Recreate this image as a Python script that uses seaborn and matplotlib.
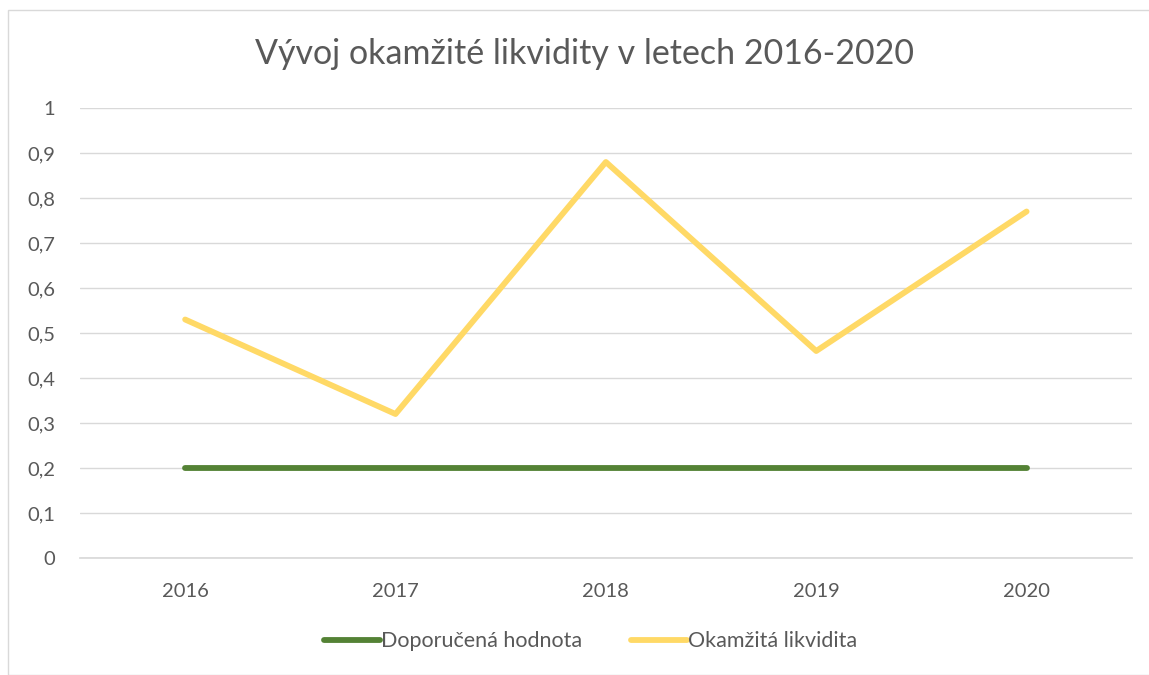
import pandas as pd
import matplotlib.pyplot as plt
import seaborn as sns
from matplotlib.patches import Rectangle

years = ["2016", "2017", "2018", "2019", "2020"]
doporucena = [0.2, 0.2, 0.2, 0.2, 0.2]
okamzita = [0.53, 0.32, 0.88, 0.46, 0.77]
series_names = ["Doporučená hodnota", "Okamžitá likvidita"]
colors = ["#548235", "#ffd966"]

sns.set_theme(style="white")
plt.rcParams["font.family"] = ["Lato", "DejaVu Sans"]

df = pd.DataFrame({
    "rok": years * 2,
    "hodnota": doporucena + okamzita,
    "serie": [series_names[0]] * 5 + [series_names[1]] * 5,
})

fig = plt.figure(figsize=(11.49, 6.75), dpi=100)
ax = fig.add_axes([0.0696, 0.1733, 0.9154, 0.6667])

sns.lineplot(data=df, x="rok", y="hodnota", hue="serie", palette=colors,
             linewidth=4.2, sort=False, ax=ax, solid_capstyle="round")

ax.set_xlim(-0.5, 4.5)
ax.set_ylim(0, 1)
ax.set_yticks([i / 10 for i in range(11)])
ax.set_yticklabels(["0", "0,1", "0,2", "0,3", "0,4", "0,5", "0,6", "0,7", "0,8", "0,9", "1"])
ax.grid(axis="y", color="#d9d9d9", linewidth=1)
ax.set_axisbelow(True)
for s in ["top", "right", "left"]:
    ax.spines[s].set_visible(False)
ax.spines["bottom"].set_color("#d9d9d9")
ax.tick_params(axis="both", colors="#595959", labelsize=14.5, length=0)
ax.tick_params(axis="y", pad=18)
ax.tick_params(axis="x", pad=18)
ax.set_xlabel("")
ax.set_ylabel("")

fig.text(0.509, 0.92, "Vývoj okamžité likvidity v letech 2016-2020",
         ha="center", va="center", fontsize=24.5, color="#595959")

handles, labels = ax.get_legend_handles_labels()
ax.legend(handles, labels, loc="center", bbox_to_anchor=(0.514, 0.05),
          bbox_transform=fig.transFigure, ncol=2, frameon=False,
          fontsize=15.5, labelcolor="#595959", handlelength=2.6,
          handletextpad=0.05, columnspacing=2.3)

fig.patches.append(Rectangle((8 / 1149, 0), 1, 1 - 10 / 675, transform=fig.transFigure,
                             fill=False, edgecolor="#d9d9d9", linewidth=1))

plt.savefig("out.png", dpi=100)
